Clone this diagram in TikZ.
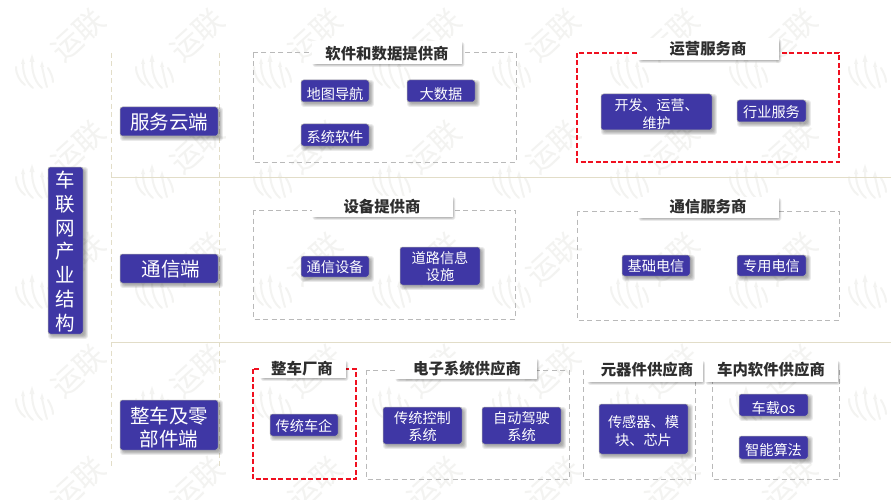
\documentclass[tikz,border=0pt]{standalone}
\usepackage{fontspec}
\setmainfont{Noto Sans CJK SC}
\setsansfont{Noto Sans CJK SC}
\definecolor{boxblue}{HTML}{3F37A5}
\definecolor{rulebeige}{HTML}{E2DDC8}
\definecolor{framegrey}{HTML}{B9B9B9}
\definecolor{framered}{HTML}{F01020}
\definecolor{wm}{HTML}{F3F3F1}
\tikzset{
  x=1pt,y=-1pt,
  bluebox/.style={draw=gray!70,line width=.5pt,fill=boxblue,rounded corners=2.5pt,inner sep=0pt},
  boxtext/.style={text=white,align=center,inner sep=0pt},
  titleplate/.style={fill=white,inner sep=0pt},
  softlayer/.style={fill=black,fill opacity=.075,rounded corners=2.5pt},
  titletext/.style={inner sep=0pt,text=black!82,font=\fontsize{15.4}{15.4}\selectfont\bfseries},
  greyframe/.style={draw=framegrey,line width=1pt,dash pattern=on 5pt off 3.5pt},
  redframe/.style={draw=framered,line width=1.1pt,dash pattern=on 5pt off 2.5pt},
  vguide/.style={draw=rulebeige,line width=.9pt,dash pattern=on 5pt off 3.5pt},
  hrule/.style={draw=rulebeige,line width=1pt},
  wmtext/.style={text=wm,rotate=42,font=\fontsize{30}{30}\selectfont},
  wmline/.style={draw=wm,line width=2pt,line cap=round},
}
% soft shadow: x1 y1 x2 y2 dx dy
\newcommand{\softshadow}[6]{%
  \foreach \se in {2.4,1.6,.8,0,-.8}{%
    \fill[softlayer] ({#1+#5-\se},{#2+#6-\se}) rectangle ({#3+#5+\se},{#4+#6+\se});
  }}
\newcommand{\plateshadow}[4]{%
  \foreach \se in {1.4,.7,0,-.7}{%
    \fill[softlayer] ({#1+2-\se},{#2+2.5-\se}) rectangle ({#3+1+\se},{#4+1.5+\se});
  }}
% \bx{name}{x1}{y1}{x2}{y2}{fontsize}{baseline}{dy}{text}
\newcommand{\bx}[9]{%
  \softshadow{#2}{#3}{#4}{#5}{2.5}{2.5}%
  \pgfmathsetmacro{\bxw}{#4-#2}\pgfmathsetmacro{\bxh}{#5-#3}%
  \pgfmathsetmacro{\bxx}{(#2+#4)/2}\pgfmathsetmacro{\bxy}{(#3+#5)/2}%
  \pgfmathsetmacro{\bxty}{\bxy+#8}%
  \node[bluebox,minimum width=\bxw pt,minimum height=\bxh pt] (#1) at (\bxx,\bxy) {};
  \node[boxtext,font=\fontsize{#6}{#7}\selectfont] (#1t) at (\bxx,\bxty) {#9};}
\newcommand{\plate}[5]{%
  \plateshadow{#2}{#3}{#4}{#5}%
  \pgfmathsetmacro{\bxw}{#4-#2}\pgfmathsetmacro{\bxh}{#5-#3}%
  \pgfmathsetmacro{\bxx}{(#2+#4)/2}\pgfmathsetmacro{\bxy}{(#3+#5)/2}%
  \node[titleplate,minimum width=\bxw pt,minimum height=\bxh pt] (#1) at (\bxx,\bxy) {};}
\newcommand{\wmlogo}[2]{%
  \begin{scope}[shift={(#1,#2)}]
    \draw[wmline] (-17,-8) .. controls (-17,0) and (-13,6) .. (-8,10);
    \draw[wmline] (-10,-11) .. controls (-10,0) and (-6,8) .. (0,13);
    \draw[wmline] (-1,-13) .. controls (-1,-1) and (3,8) .. (9,13);
    \draw[wmline] (9,-8) .. controls (11,0) and (12,6) .. (14,12);
    \draw[wmline] (15,-7) .. controls (18,-2) and (20,3) .. (20,7);
    \fill[wm] (-1,-21) -- (1.5,-13) -- (-3.5,-13) -- cycle;
    \fill[wm] (-10,-17) -- (-8,-11) -- (-12,-11) -- cycle;
    \fill[wm] (9,-14) -- (11,-8) -- (7,-8) -- cycle;
  \end{scope}}
\begin{document}
\begin{tikzpicture}
\useasboundingbox (0,0) rectangle (891,500);
\clip (0,0) rectangle (891,500);
\fill[white] (0,0) rectangle (891,500);
% watermark
\foreach \wy in {35,147,259,371,483}{
  \foreach \wx in {78,197,315,434,553,672,790}{
    \node[wmtext] at (\wx,\wy) {运联};
  }
}
\foreach \wy in {75,185,295,407}{
  \foreach \wx in {33,153,271,390,510,628,747,866}{
    \wmlogo{\wx}{\wy}
  }
}
\fill[white] (862,472) rectangle (891,500);
% guides
\coordinate (g1t) at (111,53); \coordinate (g1b) at (111,468);
\coordinate (g2t) at (219,53); \coordinate (g2b) at (219,468);
\coordinate (h1l) at (111,177); \coordinate (h1r) at (891,177);
\coordinate (h2l) at (111,342); \coordinate (h2r) at (891,342);
\draw[vguide] (g1t) -- (g1b);
\draw[vguide] (g2t) -- (g2b);
\draw[hrule] (h1l) -- (h1r);
\draw[hrule] (h2l) -- (h2r);
% frames
\draw[greyframe] (253,53) rectangle (516,162);
\draw[redframe] (577,53) rectangle (839,162);
\draw[greyframe] (253,210) rectangle (515,319);
\draw[greyframe] (577,211) rectangle (839,320);
\draw[redframe] (253,369) rectangle (356,479);
\draw[greyframe] (366,370) rectangle (569,479);
\draw[greyframe] (583,370) rectangle (695,479);
\draw[greyframe] (712,370) rectangle (839,479);
% title plates
\plate{p1}{312}{41}{462}{64}
\plate{p2}{312}{196}{453}{217}
\plate{p3}{638}{38}{779}{60}
\plate{p4}{638}{197}{779}{218}
\plate{p5}{260}{360}{346}{378}
\plate{p6}{395}{358}{537}{379}
\plate{p7}{587}{360}{703}{382}
\plate{p8}{705}{360}{838}{382}
\node[titletext] (t1) at (387,54) {软件和数据提供商};
\node[titletext] (t2) at (382,207) {设备提供商};
\node[titletext] (t3) at (708,49) {运营服务商};
\node[titletext] (t4) at (708,207) {通信服务商};
\node[titletext] (t5) at (302,369) {整车厂商};
\node[titletext] (t6) at (467,369) {电子系统供应商};
\node[titletext] (t7) at (647,370) {元器件供应商};
\node[titletext] (t8) at (771,370) {车内软件供应商};
% boxes
\bx{root}{48}{167}{83}{334}{19.5}{23.8}{1}{车\\联\\网\\产\\业\\结\\构}
\bx{c1}{120}{107}{218}{136}{19.5}{24}{0.5}{服务云端}
\bx{c2}{120}{254}{218}{283}{19.5}{24}{0.5}{\hspace*{4pt}通信端}
\bx{c3}{120}{400}{218}{450}{19.5}{23.5}{2.5}{整车及零\\部件端}
\bx{a1}{301}{80}{369}{102}{14.2}{17}{3}{地图导航}
\bx{a2}{407}{80}{475}{102}{14.2}{17}{3}{大数据}
\bx{a3}{301}{124}{369}{146}{14.2}{17}{2}{系统软件}
\bx{b1}{601}{94}{712}{130}{14}{17.5}{2}{开发、运营、\\维护}
\bx{b2}{737}{100}{806}{122}{14.2}{17}{1}{行业服务}
\bx{d1}{301}{256}{369}{277}{14.2}{17}{0.5}{通信设备}
\bx{d2}{400}{247}{480}{285}{14.2}{17}{0.5}{道路信息\\设施}
\bx{e1}{622}{255}{690}{276}{14.2}{17}{0.5}{基础电信}
\bx{e2}{737}{255}{806}{276}{14.2}{17}{0.5}{专用电信}
\bx{f1}{270}{414}{338}{436}{14.2}{17}{1}{传统车企}
\bx{g1}{383}{407}{462}{444}{14.2}{17}{1}{传统控制\\系统}
\bx{g2}{482}{407}{561}{444}{14.2}{17}{1}{自动驾驶\\系统}
\bx{h1}{599}{404}{688}{454}{14.2}{17.5}{2}{传感器、模\\块、芯片}
\bx{i1}{739}{394}{808}{416}{14.2}{17}{3}{车载os}
\bx{i2}{739}{436}{808}{459}{14.2}{17}{2.5}{智能算法}
\end{tikzpicture}
\end{document}
